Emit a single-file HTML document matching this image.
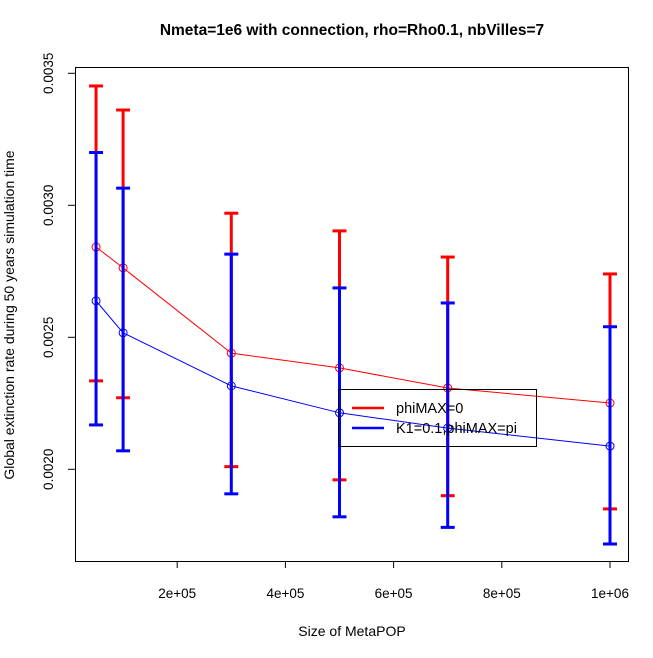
<!DOCTYPE html>
<html><head><meta charset="utf-8"><style>
body{margin:0;background:#fff}
svg{display:block;font-family:"Liberation Sans",Arial,sans-serif}
</style></head><body>
<svg id="chart" width="653" height="658">
<text x="352" y="35" text-anchor="middle" font-size="15.5" font-weight="bold">Nmeta=1e6  with connection, rho=Rho0.1, nbVilles=7</text>
<text x="352" y="636" text-anchor="middle" font-size="14">Size of MetaPOP</text>
<text transform="translate(14,315) rotate(-90)" text-anchor="middle" font-size="14">Global extinction rate during 50 years simulation time</text>
<rect x="75.5" y="67.5" width="553" height="494" fill="none" stroke="#000"/>
<g id="axes"></g><g id="marks"></g>
<g>
<rect x="338.5" y="389.5" width="198" height="57" fill="none" stroke="#000"/>
<line x1="352" y1="408" x2="384" y2="408" stroke="#f00" stroke-width="2.5"/>
<text x="396" y="413" font-size="14.5">phiMAX=0</text>
<line x1="352" y1="428" x2="384" y2="428" stroke="#00f" stroke-width="2.5"/>
<text x="396" y="433" font-size="14.5">K1=0.1,phiMAX=pi</text>
</g>
</svg>
<script>
const xs=[50000,100000,300000,500000,700000,1000000];
const redMean=[0.002842,0.002763,0.00244,0.002384,0.002308,0.002251];
const redUp=[0.003452,0.003361,0.00297,0.002903,0.002804,0.00274];
const redLo=[0.002335,0.002271,0.00201,0.00196,0.0019,0.00185];
const blueMean=[0.002638,0.002517,0.002316,0.002214,0.002156,0.002088];
const blueUp=[0.0032,0.003065,0.002815,0.002687,0.00263,0.00254];
const blueLo=[0.002168,0.00207,0.001907,0.00182,0.00178,0.001717];
const xTicks=[200000,400000,600000,800000,1000000];
const xTickLabels=["2e+05","4e+05","6e+05","8e+05","1e+06"];
const yTicks=[0.002,0.0025,0.003,0.0035];
const yTickLabels=["0.0020","0.0025","0.0030","0.0035"];
const X=v=>69+v/100000*54.1;
const Y=v=>73.3+(0.0035-v)/0.0005*132;
const NS="http://www.w3.org/2000/svg";
function mk(p,t,a){const e=document.createElementNS(NS,t);for(const k in a)e.setAttribute(k,a[k]);p.appendChild(e);return e;}
const ax=document.getElementById('axes'),mg=document.getElementById('marks');
mk(ax,'line',{x1:X(xTicks[0]),x2:X(xTicks[xTicks.length-1]),y1:561.5,y2:561.5,stroke:'#000'});
xTicks.forEach((t,i)=>{
 const l=mk(ax,'line',{x1:X(t),x2:X(t),y1:561.5,y2:568,stroke:'#000'});
 
 
 const tx=mk(ax,'text',{x:X(t),y:598,'text-anchor':'middle','font-size':13.5});tx.textContent=xTickLabels[i];
 
 
});
yTicks.forEach((t,i)=>{
 const l=mk(ax,'line',{x1:68,x2:75.5,y1:Y(t),y2:Y(t),stroke:'#000'});
 
 
 const tx=mk(ax,'text',{transform:`translate(53,${Y(t)}) rotate(-90)`,'text-anchor':'middle','font-size':13.5});tx.textContent=yTickLabels[i];
 
 
});
function series(mean,up,lo,col,name){
 const pts=xs.map((x,i)=>X(x)+','+Y(mean[i])).join(' ');
 const pl=mk(mg,'polyline',{points:pts,fill:'none',stroke:col,'stroke-width':1});
 
 
 xs.forEach((x,i)=>{
  const g=mk(mg,'g',{stroke:col,'stroke-width':3,fill:'none'});
  
  
  mk(g,'line',{x1:X(x),x2:X(x),y1:Y(up[i]),y2:Y(lo[i])});
  mk(g,'line',{x1:X(x)-7,x2:X(x)+7,y1:Y(up[i]),y2:Y(up[i])});
  mk(g,'line',{x1:X(x)-7,x2:X(x)+7,y1:Y(lo[i]),y2:Y(lo[i])});
  const c=mk(mg,'circle',{cx:X(x),cy:Y(mean[i]),r:4,fill:'none',stroke:col,'stroke-width':1});
  
  
 });
}
series(redMean,redUp,redLo,'#f00','red');
series(blueMean,blueUp,blueLo,'#00f','blue');
</script>
</body></html>
